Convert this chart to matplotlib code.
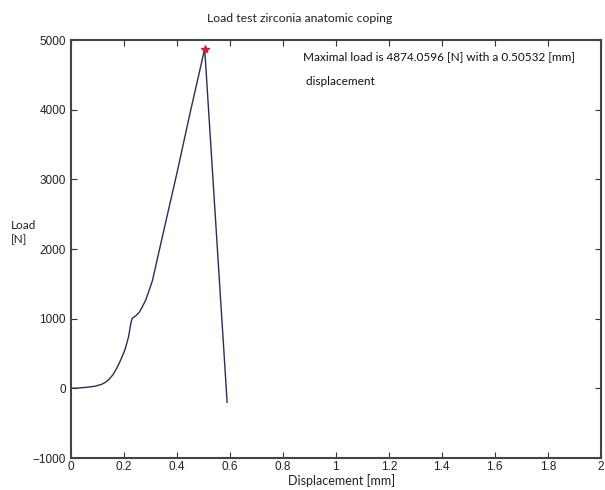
import matplotlib.pyplot as plt

# load-displacement curve
displacement = [0.0, 0.03, 0.06, 0.09, 0.115, 0.13, 0.145, 0.16, 0.175, 0.19, 0.205,
                0.218, 0.228, 0.233, 0.245, 0.258, 0.27, 0.283, 0.295, 0.308, 0.35,
                0.40, 0.45, 0.50532, 0.59]
load = [0, 5, 15, 30, 55, 85, 130, 200, 300, 420, 560,
        740, 960, 1010, 1040, 1090, 1170, 1270, 1400, 1545, 2250,
        3080, 3950, 4874.0596, -200]

peak_x = 0.50532
peak_y = 4874.0596

xticks = [0, 0.2, 0.4, 0.6, 0.8, 1, 1.2, 1.4, 1.6, 1.8, 2]
xticklabels = ['0', '0.2', '0.4', '0.6', '0.8', '1', '1.2', '1.4', '1.6', '1.8', '2']
yticks = [-1000, 0, 1000, 2000, 3000, 4000, 5000]

plt.rcParams['font.family'] = ['Liberation Sans', 'DejaVu Sans']

fig = plt.figure(figsize=(6.05, 4.9), dpi=100)
ax = fig.add_axes([0.117, 0.0653, 0.876, 0.853])

ax.plot(displacement, load, color='#2b2b5c', linewidth=1.0)
ax.plot([peak_x], [peak_y], marker='*', color='#d0203a', markersize=6, linestyle='none')

ax.set_xlim(0, 2)
ax.set_ylim(-1000, 5000)
ax.set_xticks(xticks)
ax.set_xticklabels(xticklabels)
ax.set_yticks(yticks)
ax.set_yticklabels(['\u22121000', '0', '1000', '2000', '3000', '4000', '5000'])
ax.tick_params(direction='in', top=True, right=True, length=4, width=0.8,
               colors='#333333', labelsize=8.5, labelcolor='#222222')
ax.tick_params(axis='x', pad=2)
for s in ax.spines.values():
    s.set_color('#444444')
    s.set_linewidth(1.5)

ax.text(0.875, 4760, 'Maximal load is 4874.0596 [N] with a 0.50532 [mm]',
        fontsize=8.5, family='Lato', color='#111111', va='center')
ax.text(0.875, 4400, ' displacement',
        fontsize=8.5, family='Lato', color='#111111', va='center')

fig.text(0.495, 0.963, 'Load test zirconia anatomic coping', ha='center', va='center',
         fontsize=8.8, family='Lato', color='#222222')
fig.text(0.564, 0.019, 'Displacement [mm]', ha='center', va='center',
         fontsize=9, family='Lato', color='#222222')
fig.text(0.018, 0.525, 'Load\n[N]', ha='left', va='center', linespacing=1.3,
         fontsize=8.5, family='Lato', color='#222222',
         bbox=dict(facecolor='white', edgecolor='none', pad=4))

fig.savefig('out.png', dpi=100)
